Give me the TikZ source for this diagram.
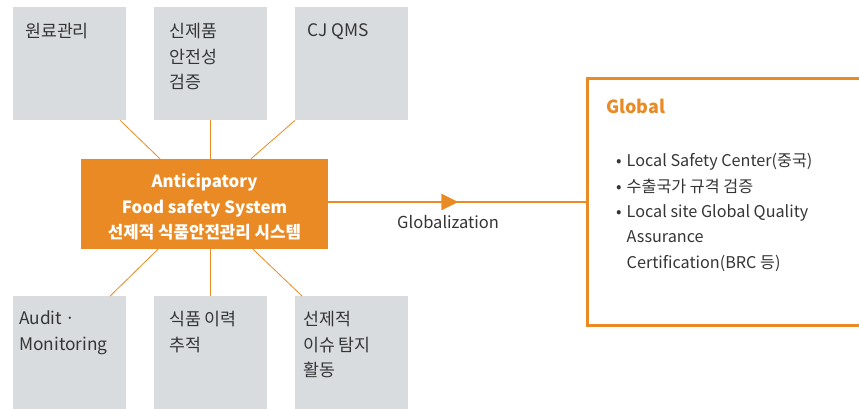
\documentclass[tikz,border=0pt]{standalone}
\usepackage{fontspec}
\setmainfont{Noto Sans CJK KR}
\usetikzlibrary{arrows.meta,decorations.markings}
\definecolor{cjorange}{HTML}{E98A24}
\definecolor{cjgray}{HTML}{D9DCDF}
\definecolor{cjtext}{HTML}{353535}

\begin{document}
\begin{tikzpicture}[
	x=1pt, y=-1pt,
	box/.style={ fill=cjgray, inner sep=0pt, minimum width=113pt, minimum height=113pt, anchor=north west },
	boxtext/.style={ anchor=north west, inner sep=0pt, align=left, text=cjtext, font=\fontsize{17.3}{25.5}\selectfont },
	core/.style={ fill=cjorange, inner sep=0pt, minimum width=247pt, minimum height=90pt },
	coretext/.style={ text=white, inner sep=0pt, align=center, font=\bfseries\fontsize{16.8}{25.5}\selectfont },
	globbox/.style={ draw=cjorange, line width=2.6pt, inner sep=0pt, minimum width=290pt, minimum height=247pt, anchor=north west },
	link/.style={ cjorange, line width=0.8pt },
	flow/.style={ cjorange, line width=2.4pt, postaction=decorate,
		decoration={markings, mark=at position 0.505 with {\arrow{Triangle[length=17pt,width=16pt]}}} }
]
\useasboundingbox (0,0) rectangle (859,408);

\node at (13,7) (b1) [box] {};
\node at (154,7) (b2) [box] {};
\node at (295,7) (b3) [box] {};
\node at (13,296) (b4) [box] {};
\node at (154,296) (b5) [box] {};
\node at (295,296) (b6) [box] {};

\node at ([shift={(12,16)}]b1.north west) (t1) [boxtext] {원료관리};
\node at ([shift={(15,16)}]b2.north west) (t2) [boxtext] {신제품\\안전성\\검증};
\node at ([shift={(12,16)}]b3.north west) (t3) [boxtext] {CJ QMS};
\node at ([shift={(6,15)}]b4.north west) (t4) [boxtext] {Audit ·\\Monitoring};
\node at ([shift={(15,15)}]b5.north west) (t5) [boxtext] {식품 이력\\추적};
\node at ([shift={(8,15)}]b6.north west) (t6) [boxtext] {선제적\\이슈 탐지\\활동};

\node at (204.5,204) (core) [core] {};
\node at ([yshift=-3pt]core.center) (ctext) [coretext] {Anticipatory\\Food safety System\\선제적 식품안전관리 시스템};

\draw[link] ([xshift=-44.5pt]core.north) -- ([xshift=50.5pt]b1.south);
\draw[link] (b2) -- (b2 |- core.north);
\draw[link] ([xshift=46.5pt]core.north) -- (b3.south west);
\draw[link] ([xshift=-46.5pt]core.south) -- ([xshift=40.5pt]b4.north);
\draw[link] (b5) -- (b5 |- core.south);
\draw[link] ([xshift=48.5pt]core.south) -- ([xshift=7pt]b6.north west);

\node at (586,77) (glob) [globbox] {};
\node at ([shift={(20,22)}]glob.north west) (gtitle) [anchor=north west, inner sep=0pt, text=cjorange, font=\bfseries\fontsize{18}{20}\selectfont] {Global};
\node at ([shift={(30,72)}]glob.north west) (glist) [anchor=north west, inner sep=0pt, text=cjtext, font=\fontsize{16.2}{25.3}\selectfont]
	{\begin{tabular}{@{}l@{\hspace{5pt}}l@{}}
	• & Local Safety Center(중국)\\
	• & 수출국가 규격 검증\\
	• & Local site Global Quality\\
	  & Assurance\\
	  & Certification(BRC 등)
	\end{tabular}};

\draw[flow] (core.east |- 0,202) -- (glob.west |- 0,202) node[midway, below=9pt, xshift=-9pt, text=cjtext, font=\fontsize{16.5}{18}\selectfont] (glabel) {Globalization};

\end{tikzpicture}
\end{document}
